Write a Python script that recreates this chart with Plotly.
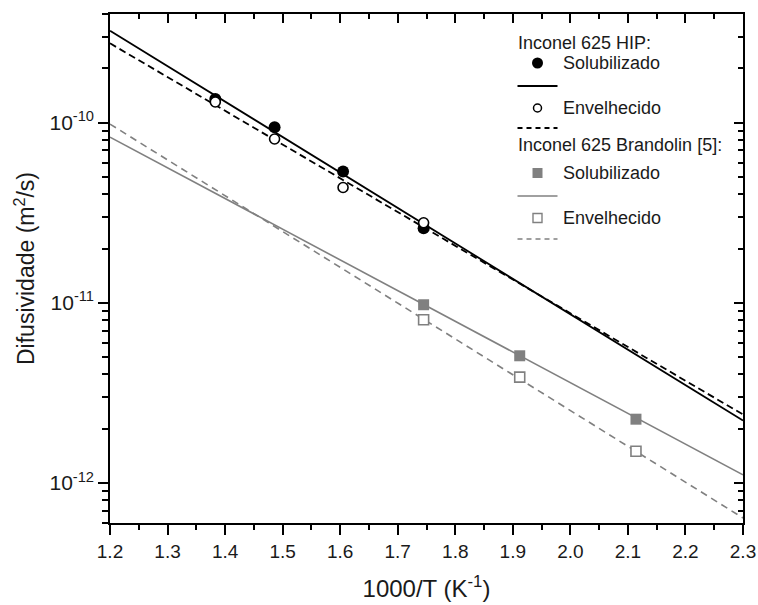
import numpy as np
import plotly.graph_objects as go

# ---------------- data ----------------
hip_x = [1.383, 1.486, 1.605, 1.745]
hip_sol = [1.35e-10, 9.4e-11, 5.35e-11, 2.59e-11]
hip_env = [1.30e-10, 8.1e-11, 4.36e-11, 2.78e-11]

bra_x = [1.745, 1.912, 2.114]
bra_sol = [9.75e-12, 5.08e-12, 2.26e-12]
bra_env = [8.05e-12, 3.87e-12, 1.50e-12]

fit_x = [1.2, 2.3]
hip_sol_fit = [3.23e-10, 2.22e-12]
hip_env_fit = [2.75e-10, 2.40e-12]
bra_sol_fit = [8.3e-11, 1.11e-12]
bra_env_fit = [9.8e-11, 6.4e-13]

x_ticks = [1.2, 1.3, 1.4, 1.5, 1.6, 1.7, 1.8, 1.9, 2.0, 2.1, 2.2, 2.3]
x_ticklabels = ["1.2", "1.3", "1.4", "1.5", "1.6", "1.7", "1.8", "1.9", "2.0", "2.1", "2.2", "2.3"]
y_ticks = [1e-12, 1e-11, 1e-10]
y_ticklabels = ["10<sup>-12</sup>", "10<sup>-11</sup>", "10<sup>-10</sup>"]

# ---------------- layout constants ----------------
W, H = 758, 605
L, R, T, B = 110, 15, 14, 82
PW, PH = W - L - R, H - T - B
xr = [1.2, 2.3]
yr = [np.log10(6e-13), np.log10(4e-10)]

x_minor = [round(1.2 + 0.05 * i, 3) for i in range(23)]
y_minor = []
for e in (-13, -12, -11, -10):
    for m in range(2, 10):
        v = m * 10.0 ** e
        if 6e-13 <= v <= 4.0001e-10:
            y_minor.append(v)

GRAY = "#808080"
FONT = "Arial, Liberation Sans, sans-serif"

fig = go.Figure()

# fit lines
fig.add_trace(go.Scatter(x=fit_x, y=bra_sol_fit, mode="lines",
                         line=dict(color=GRAY, width=1.6), showlegend=False))
fig.add_trace(go.Scatter(x=fit_x, y=bra_env_fit, mode="lines",
                         line=dict(color=GRAY, width=1.6, dash="7px,5px"), showlegend=False))
fig.add_trace(go.Scatter(x=fit_x, y=hip_env_fit, mode="lines",
                         line=dict(color="black", width=1.8, dash="7px,4px"), showlegend=False))
fig.add_trace(go.Scatter(x=fit_x, y=hip_sol_fit, mode="lines",
                         line=dict(color="black", width=1.8), showlegend=False))

# markers
fig.add_trace(go.Scatter(x=hip_x, y=hip_sol, mode="markers",
                         marker=dict(symbol="circle", size=12, color="black"), showlegend=False))
fig.add_trace(go.Scatter(x=hip_x, y=hip_env, mode="markers",
                         marker=dict(symbol="circle", size=10, color="white",
                                     line=dict(color="black", width=1.6)), showlegend=False))
fig.add_trace(go.Scatter(x=bra_x, y=bra_sol, mode="markers",
                         marker=dict(symbol="square", size=11, color=GRAY), showlegend=False))
fig.add_trace(go.Scatter(x=bra_x, y=bra_env, mode="markers",
                         marker=dict(symbol="square", size=10, color="white",
                                     line=dict(color=GRAY, width=1.6)), showlegend=False))

# dummy traces so the mirrored (top / right) axes are drawn
fig.add_trace(go.Scatter(x=[None], y=[None], xaxis="x2", yaxis="y",
                         showlegend=False, hoverinfo="skip"))
fig.add_trace(go.Scatter(x=[None], y=[None], xaxis="x", yaxis="y2",
                         showlegend=False, hoverinfo="skip"))

axis_common = dict(showline=True, linecolor="black", linewidth=1.5, automargin=False,
                   tickcolor="black", tickwidth=1.5, showgrid=False, zeroline=False)

fig.update_layout(
    width=W, height=H,
    margin=dict(l=L, r=R, t=T, b=B),
    paper_bgcolor="white", plot_bgcolor="white",
    font=dict(family=FONT, color="#1a1a1a"),
    xaxis=dict(range=xr, tickmode="array", tickvals=x_ticks, ticktext=x_ticklabels,
               ticks="outside", ticklen=10, tickfont=dict(size=19),
               minor=dict(tickmode="array", tickvals=x_minor, ticks="outside",
                          ticklen=5, tickcolor="black", tickwidth=1.5),
               title=dict(text="1000/T (K<sup>-1</sup>)", font=dict(size=24), standoff=20),
               **axis_common),
    yaxis=dict(type="log", range=yr, tickmode="array", tickvals=y_ticks, ticktext=y_ticklabels,
               ticks="outside", ticklen=10, tickfont=dict(size=21),
               minor=dict(tickmode="array", tickvals=y_minor, ticks="outside",
                          ticklen=6, tickcolor="black", tickwidth=1.5),
               title=dict(text="Difusividade (m<sup>2</sup>/s)", font=dict(size=23), standoff=8),
               **axis_common),
    xaxis2=dict(range=xr, overlaying="x", side="top", anchor="y",
                tickmode="array", tickvals=x_ticks, showticklabels=False,
                ticks="inside", ticklen=9,
                minor=dict(tickmode="array", tickvals=x_minor, ticks="inside",
                           ticklen=5, tickcolor="black", tickwidth=1.5),
                **axis_common),
    yaxis2=dict(type="log", range=yr, overlaying="y", side="right", anchor="x",
                tickmode="array", tickvals=y_ticks, showticklabels=False,
                ticks="inside", ticklen=9,
                minor=dict(tickmode="array", tickvals=y_minor, ticks="inside",
                           ticklen=5, tickcolor="black", tickwidth=1.5),
                **axis_common),
    showlegend=False,
)

# ---------------- manual legend ----------------
def px2x(px):
    return (px - L) / PW

def py2y(py):
    return (T + PH - py) / PH

shapes = []
annots = []

def text(px, py, s):
    annots.append(dict(x=px2x(px), y=py2y(py), xref="paper", yref="paper", text=s,
                       showarrow=False, xanchor="left", yanchor="middle",
                       font=dict(size=18, family=FONT, color="#1a1a1a")))

def hline(py, color, dash="solid", width=1.8):
    shapes.append(dict(type="line", xref="paper", yref="paper",
                       x0=px2x(517.5), x1=px2x(557.5), y0=py2y(py), y1=py2y(py),
                       line=dict(color=color, width=width, dash=dash)))

def glyph(kind, py, size, fill, edge, lw=0):
    shapes.append(dict(type=kind, xref="paper", yref="paper",
                       xsizemode="pixel", ysizemode="pixel",
                       xanchor=px2x(537.5), yanchor=py2y(py),
                       x0=-size / 2, x1=size / 2, y0=-size / 2, y1=size / 2,
                       fillcolor=fill, line=dict(color=edge, width=lw)))

text(516, 43, "Inconel 625 HIP:")
glyph("circle", 63, 11, "black", "black", 0)
text(561, 63, "Solubilizado")
hline(86, "black")
glyph("circle", 108, 8, "white", "black", 1.5)
text(561, 108, "Envelhecido")
hline(128, "black", "5px,4px")
text(516, 145, "Inconel 625 Brandolin [5]:")
glyph("rect", 173, 10, GRAY, GRAY, 0)
text(561, 173, "Solubilizado")
hline(196, GRAY, width=1.6)
glyph("rect", 218, 9, "white", GRAY, 1.4)
text(561, 218, "Envelhecido")
hline(239, GRAY, "5px,4px", width=1.6)

fig.update_layout(shapes=shapes, annotations=annots)

fig.write_html("out.html")
